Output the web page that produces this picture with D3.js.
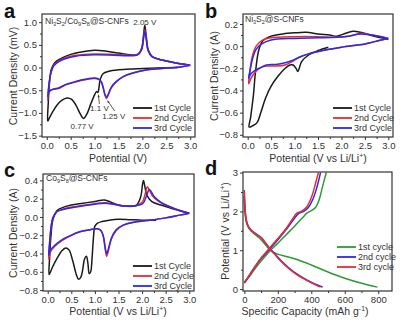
<!DOCTYPE html>
<html><head><meta charset="utf-8">
<script src="https://cdn.jsdelivr.net/npm/d3@7"></script>
<style>body{margin:0;background:#fff}svg{display:block;font-family:"Liberation Sans",Arial,sans-serif}</style>
</head><body><svg id="c" width="405" height="328"></svg>
<script>
// ---------- DATA ----------
const cycleLabels = ["1st Cycle","2nd Cycle","3rd Cycle"];
const cycleLabelsD = ["1st cycle","2nd cycle","3rd cycle"];
const cvTicks = [0,0.5,1,1.5,2,2.5,3];
const aYTicks = [-1.5,-1,-0.5,0,0.5,1];
const bYTicks = [-0.8,-0.6,-0.4,-0.2,0,0.2];
const cYTicks = [-0.8,-0.6,-0.4,-0.2,0,0.2,0.4];
const dXTicks = [0,200,400,600,800];
const dYTicks = [0,1,2,3];

// Panel a: Ni3S2/Co9S8@S-CNFs  [potential V, current]
const a1 = [[2.75,0.0],[2.3,-0.01],[1.8,-0.03],[1.5,-0.05],[1.3,-0.08],[1.18,-0.13],[1.12,-0.25],[1.09,-0.45],[1.07,-0.55],[1.04,-0.53],[1.0,-0.6],[0.92,-0.8],[0.85,-1.0],[0.77,-1.12],[0.7,-1.02],[0.62,-0.85],[0.52,-0.7],[0.42,-0.67],[0.32,-0.72],[0.22,-0.82],[0.12,-0.98],[0.05,-1.12],[0.02,-1.18],[0.03,-0.8],[0.06,-0.3],[0.1,-0.02],[0.18,0.12],[0.3,0.2],[0.5,0.29],[0.75,0.35],[1.0,0.38],[1.25,0.36],[1.5,0.32],[1.75,0.28],[1.92,0.3],[1.99,0.45],[2.03,0.78],[2.05,0.93],[2.08,0.7],[2.12,0.4],[2.2,0.25],[2.4,0.17],[2.7,0.1],[3.0,0.05]];
const a2 = [[3.0,0.05],[2.7,0.0],[2.4,-0.02],[2.1,-0.05],[1.8,-0.12],[1.6,-0.2],[1.45,-0.32],[1.35,-0.45],[1.28,-0.62],[1.25,-0.68],[1.22,-0.62],[1.18,-0.45],[1.14,-0.32],[1.08,-0.26],[1.0,-0.24],[0.8,-0.27],[0.6,-0.32],[0.4,-0.38],[0.25,-0.46],[0.15,-0.48],[0.08,-0.5],[0.04,-0.56],[0.02,-0.72],[0.04,-0.45],[0.08,-0.15],[0.14,0.04],[0.25,0.15],[0.4,0.22],[0.6,0.27],[1.0,0.3],[1.4,0.29],[1.7,0.27],[1.9,0.29],[1.98,0.4],[2.03,0.72],[2.05,0.83],[2.08,0.65],[2.12,0.38],[2.2,0.24],[2.4,0.17],[2.7,0.1],[3.0,0.05]];
const a3 = [[3.0,0.05],[2.7,0.0],[2.4,-0.02],[2.1,-0.05],[1.8,-0.12],[1.6,-0.2],[1.45,-0.31],[1.35,-0.43],[1.28,-0.6],[1.25,-0.65],[1.22,-0.6],[1.18,-0.44],[1.14,-0.31],[1.08,-0.25],[1.0,-0.23],[0.8,-0.26],[0.6,-0.31],[0.4,-0.37],[0.25,-0.45],[0.15,-0.47],[0.08,-0.5],[0.04,-0.54],[0.02,-0.64],[0.04,-0.42],[0.08,-0.14],[0.14,0.03],[0.25,0.13],[0.4,0.2],[0.6,0.25],[1.0,0.28],[1.4,0.27],[1.7,0.26],[1.9,0.28],[1.98,0.38],[2.03,0.7],[2.05,0.8],[2.08,0.62],[2.12,0.37],[2.2,0.24],[2.4,0.17],[2.7,0.1],[3.0,0.05]];

// Panel b: Ni3S2@S-CNFs
const b1 = [[1.72,-0.01],[1.5,-0.04],[1.3,-0.08],[1.15,-0.14],[1.1,-0.2],[1.07,-0.23],[1.03,-0.2],[0.97,-0.17],[0.9,-0.17],[0.8,-0.2],[0.65,-0.27],[0.5,-0.36],[0.38,-0.47],[0.28,-0.6],[0.2,-0.69],[0.1,-0.72],[0.03,-0.73],[0.06,-0.65],[0.12,-0.45],[0.17,-0.22],[0.24,-0.03],[0.33,0.05],[0.5,0.09],[0.75,0.11],[1.0,0.12],[1.25,0.125],[1.5,0.11],[1.75,0.1],[1.9,0.09],[2.05,0.11],[2.25,0.135],[2.45,0.12],[2.7,0.09],[2.9,0.07],[3.0,0.06]];
const b2 = [[3.0,0.07],[2.8,0.05],[2.5,0.02],[2.0,-0.01],[1.6,-0.04],[1.3,-0.07],[1.1,-0.1],[0.95,-0.14],[0.8,-0.17],[0.6,-0.18],[0.4,-0.18],[0.25,-0.2],[0.15,-0.24],[0.07,-0.29],[0.02,-0.34],[0.05,-0.22],[0.1,-0.09],[0.18,0.0],[0.3,0.05],[0.5,0.075],[1.0,0.085],[1.5,0.085],[1.9,0.08],[2.15,0.09],[2.4,0.115],[2.6,0.105],[2.85,0.085],[3.0,0.07]];
const b3 = [[3.0,0.07],[2.8,0.05],[2.5,0.02],[2.0,-0.01],[1.6,-0.04],[1.3,-0.07],[1.1,-0.1],[0.95,-0.13],[0.8,-0.15],[0.6,-0.165],[0.4,-0.17],[0.25,-0.2],[0.15,-0.22],[0.07,-0.25],[0.02,-0.29],[0.05,-0.22],[0.1,-0.12],[0.18,-0.03],[0.3,0.02],[0.5,0.055],[1.0,0.07],[1.5,0.075],[1.9,0.08],[2.15,0.09],[2.4,0.11],[2.65,0.1],[2.85,0.085],[3.0,0.07]];

// Panel c: Co9S8@S-CNFs
const c1 = [[2.3,-0.035],[2.0,-0.035],[1.75,-0.03],[1.5,-0.025],[1.3,-0.035],[1.15,-0.05],[1.05,-0.07],[1.0,-0.1],[0.97,-0.22],[0.94,-0.45],[0.91,-0.6],[0.88,-0.62],[0.85,-0.5],[0.82,-0.43],[0.78,-0.46],[0.74,-0.58],[0.7,-0.66],[0.65,-0.68],[0.6,-0.62],[0.53,-0.48],[0.45,-0.36],[0.38,-0.34],[0.3,-0.37],[0.2,-0.45],[0.1,-0.55],[0.03,-0.63],[0.04,-0.45],[0.07,-0.2],[0.11,-0.03],[0.2,0.07],[0.3,0.1],[0.5,0.13],[0.75,0.15],[1.0,0.17],[1.2,0.185],[1.35,0.16],[1.5,0.13],[1.7,0.12],[1.88,0.13],[1.97,0.22],[2.01,0.36],[2.03,0.4],[2.06,0.33],[2.1,0.24],[2.2,0.17],[2.4,0.13],[2.65,0.09],[2.85,0.06],[3.0,0.04]];
const c2 = [[3.0,0.04],[2.8,0.02],[2.5,-0.01],[2.1,-0.04],[1.8,-0.06],[1.6,-0.09],[1.45,-0.15],[1.35,-0.24],[1.29,-0.36],[1.25,-0.43],[1.22,-0.36],[1.18,-0.22],[1.13,-0.15],[1.05,-0.13],[0.9,-0.14],[0.7,-0.16],[0.5,-0.2],[0.3,-0.26],[0.15,-0.32],[0.06,-0.38],[0.02,-0.46],[0.04,-0.3],[0.07,-0.12],[0.11,-0.01],[0.2,0.06],[0.35,0.09],[0.6,0.115],[1.0,0.145],[1.2,0.155],[1.4,0.14],[1.6,0.12],[1.85,0.12],[2.0,0.16],[2.07,0.26],[2.11,0.33],[2.15,0.3],[2.22,0.23],[2.35,0.17],[2.55,0.12],[2.8,0.07],[3.0,0.04]];
const c3 = [[3.0,0.04],[2.8,0.02],[2.5,-0.01],[2.1,-0.04],[1.8,-0.06],[1.6,-0.09],[1.45,-0.14],[1.35,-0.23],[1.29,-0.34],[1.25,-0.4],[1.22,-0.34],[1.18,-0.21],[1.13,-0.15],[1.05,-0.13],[0.9,-0.14],[0.7,-0.16],[0.5,-0.2],[0.3,-0.25],[0.15,-0.31],[0.06,-0.36],[0.02,-0.42],[0.04,-0.28],[0.07,-0.11],[0.11,-0.01],[0.2,0.06],[0.35,0.085],[0.6,0.11],[1.0,0.14],[1.2,0.15],[1.4,0.14],[1.6,0.12],[1.85,0.12],[2.02,0.15],[2.1,0.24],[2.15,0.3],[2.19,0.28],[2.26,0.22],[2.4,0.16],[2.6,0.11],[2.8,0.07],[3.0,0.04]];

// Panel d: charge/discharge [capacity mAh/g, potential V]
const d1dis = [[0,2.3],[4,2.0],[12,1.72],[28,1.56],[60,1.42],[100,1.27],[130,1.12],[160,0.98],[200,0.9],[300,0.78],[400,0.62],[500,0.44],[600,0.28],[700,0.15],[795,0.05]];
const d1chg = [[0,0.15],[30,0.32],[60,0.5],[100,0.72],[150,0.97],[200,1.18],[250,1.4],[300,1.62],[350,1.85],[375,1.96],[400,2.02],[425,2.1],[447,2.3],[465,2.6],[480,2.85],[490,3.0]];
const d2dis = [[0,2.4],[4,2.05],[10,1.8],[20,1.65],[40,1.52],[70,1.42],[100,1.32],[130,1.17],[150,1.05],[180,0.92],[220,0.73],[270,0.53],[320,0.37],[370,0.24],[420,0.13],[468,0.05]];
const d2chg = [[0,0.17],[30,0.35],[60,0.55],[100,0.78],[150,1.02],[200,1.27],[250,1.53],[295,1.8],[325,1.95],[355,2.0],[382,2.1],[408,2.3],[432,2.6],[447,2.85],[455,3.0]];
const d3dis = [[0,2.55],[3,2.2],[8,1.9],[16,1.7],[32,1.55],[60,1.44],[100,1.33],[130,1.16],[150,1.04],[180,0.9],[220,0.71],[270,0.51],[320,0.35],[370,0.23],[420,0.12],[455,0.05]];
const d3chg = [[0,0.17],[30,0.36],[60,0.56],[100,0.8],[150,1.05],[200,1.3],[250,1.56],[290,1.82],[312,1.95],[340,2.0],[370,2.1],[397,2.32],[418,2.6],[433,2.85],[443,3.0]];

// ---------- DRAW ----------
const COL = {k:"#1a1a1a", r:"#ee2b2b", b:"#2a2aee", g:"#2e9a33"};
const svg = d3.select("#c");

function panel(o){
  const g = svg.append("g");
  const x = d3.scaleLinear().domain(o.xd).range(o.xr);
  const y = d3.scaleLinear().domain(o.yd).range(o.yr);
  const xa = d3.axisBottom(x).tickValues(o.xt).tickFormat(o.xf).tickSize(3).tickPadding(2);
  const ya = d3.axisLeft(y).tickValues(o.yt).tickFormat(o.yf).tickSize(3).tickPadding(2);
  g.append("g").attr("transform",`translate(0,${o.yr[0]})`).call(xa);
  g.append("g").attr("transform",`translate(${o.xr[0]},0)`).call(ya);
  g.append("g").attr("transform",`translate(0,${o.yr[0]})`).call(d3.axisBottom(x).tickValues(o.xm).tickFormat("").tickSize(2));
  g.append("g").attr("transform",`translate(${o.xr[0]},0)`).call(d3.axisLeft(y).tickValues(o.ym).tickFormat("").tickSize(2));
  g.selectAll(".domain").remove();
  g.selectAll(".tick line").attr("stroke","#333").attr("stroke-width",1);
  g.selectAll(".tick text").attr("font-size",9.5).attr("fill","#333").attr("font-family","Liberation Sans, Arial, sans-serif");
  const cid = "clip"+o.id;
  svg.append("clipPath").attr("id",cid).append("rect")
    .attr("x",o.xr[0]).attr("y",o.yr[1]).attr("width",o.xr[1]-o.xr[0]).attr("height",o.yr[0]-o.yr[1]);
  const line = d3.line().x(d=>x(d[0])).y(d=>y(d[1])).curve(d3.curveCatmullRom.alpha(0.5));
  const lg = g.append("g").attr("clip-path",`url(#${cid})`);
  o.series.forEach(s=>{
    lg.append("path").datum(s.data).attr("d",line).attr("fill","none")
      .attr("stroke",s.c).attr("stroke-width",1.5).attr("stroke-linejoin","round");
  });
  g.append("rect").attr("x",o.xr[0]).attr("y",o.yr[1]).attr("width",o.xr[1]-o.xr[0]).attr("height",o.yr[0]-o.yr[1])
    .attr("fill","none").attr("stroke","#333").attr("stroke-width",1.2);
  o.legend.forEach((l,i)=>{
    const ly = o.leg[1]+i*10;
    g.append("line").attr("x1",o.leg[0]).attr("x2",o.leg[0]+19).attr("y1",ly).attr("y2",ly).attr("stroke",l.c).attr("stroke-width",1.8);
    g.append("text").attr("x",o.leg[0]+21).attr("y",ly+3.2).attr("font-size",9).attr("fill","#333").text(l.t);
  });
  g.append("text").attr("x",o.letter[0]).attr("y",o.letter[1]).attr("font-size",20).attr("font-weight","bold").attr("fill","#111").text(o.id);
  return {g,x,y};
}

function richText(g, x, y, parts, size, anchor, rot){
  const t = g.append("text").attr("x",x).attr("y",y).attr("font-size",size).attr("fill","#333")
    .attr("text-anchor",anchor||"start");
  if(rot) t.attr("transform",`rotate(-90,${x},${y})`);
  parts.forEach(p=>{
    const s = t.append("tspan").text(p[0]);
    if(p[1]==="sub") s.attr("font-size",size*0.65).attr("dy",size*0.25);
    else if(p[1]==="sup") s.attr("font-size",size*0.65).attr("dy",-size*0.4);
    else if(p[1]==="back") s.attr("dy",-size*0.25);
    else if(p[1]==="backsup") s.attr("dy",size*0.4);
  });
  return t;
}

const cvMinor = [0.25,0.75,1.25,1.75,2.25,2.75];
const fmt1 = d3.format(".1f");

// ---- a ----
const A = panel({id:"a", xd:[-0.1,3.1], xr:[42,195], yd:[-1.53,1.18], yr:[137,14],
  xt:cvTicks, xf:fmt1, xm:cvMinor, yt:aYTicks, yf:fmt1, ym:[-1.25,-0.75,-0.25,0.25,0.75],
  series:[{data:a1,c:COL.k},{data:a2,c:COL.r},{data:a3,c:COL.b}],
  legend:[{t:cycleLabels[0],c:COL.k},{t:cycleLabels[1],c:COL.r},{t:cycleLabels[2],c:COL.b}],
  leg:[133,108], letter:[4,18]});
richText(A.g,45,24,[["Ni"],["3","sub"],["S","back"],["2","sub"],["/Co","back"],["9","sub"],["S","back"],["8","sub"],["@S-CNFs","back"]],8.5);
A.g.append("text").attr("x",A.x(2.05)).attr("y",25).attr("text-anchor","middle").attr("font-size",8).attr("fill","#333").text("2.05 V");
A.g.append("text").attr("x",A.x(1.1)).attr("y",111).attr("text-anchor","middle").attr("font-size",8).attr("fill","#333").text("1.1 V");
A.g.append("text").attr("x",A.x(1.4)).attr("y",119).attr("text-anchor","middle").attr("font-size",8).attr("fill","#333").text("1.25 V");
A.g.append("text").attr("x",A.x(0.74)).attr("y",129).attr("text-anchor","middle").attr("font-size",8).attr("fill","#333").text("0.77 V");
function arrow(g,x1,y1,x2,y2){
  g.append("line").attr("x1",x1).attr("y1",y1).attr("x2",x2).attr("y2",y2).attr("stroke","#333").attr("stroke-width",0.8);
  const ang=Math.atan2(y2-y1,x2-x1), h=2.5;
  const p=[[x2,y2],[x2-h*Math.cos(ang-0.45),y2-h*Math.sin(ang-0.45)],[x2-h*Math.cos(ang+0.45),y2-h*Math.sin(ang+0.45)]];
  g.append("path").attr("d","M"+p.join("L")+"Z").attr("fill","#333");
}
arrow(A.g, A.x(1.1), 104, A.x(1.08), A.y(-0.6));
arrow(A.g, A.x(1.42), 111, A.x(1.27), A.y(-0.73));
A.g.append("text").attr("x",118).attr("y",162).attr("text-anchor","middle").attr("font-size",10.5).attr("fill","#333").text("Potential (V)");
A.g.append("text").attr("transform","translate(17,76) rotate(-90)").attr("text-anchor","middle").attr("font-size",10.5).attr("fill","#333").text("Current Density (mV)");

// ---- b ----
const B = panel({id:"b", xd:[-0.1,3.1], xr:[243,393], yd:[-0.82,0.29], yr:[137,14],
  xt:cvTicks, xf:fmt1, xm:cvMinor, yt:bYTicks, yf:fmt1, ym:[-0.7,-0.5,-0.3,-0.1,0.1],
  series:[{data:b1,c:COL.k},{data:b2,c:COL.r},{data:b3,c:COL.b}],
  legend:[{t:cycleLabels[0],c:COL.k},{t:cycleLabels[1],c:COL.r},{t:cycleLabels[2],c:COL.b}],
  leg:[333,108], letter:[205,18]});
richText(B.g,245,22,[["Ni"],["3","sub"],["S","back"],["2","sub"],["@S-CNFs","back"]],8.5);
richText(B.g,318,162,[["Potential (V vs Li/Li"],["+","sup"],[")","backsup"]],10.5,"middle");
B.g.append("text").attr("transform","translate(218,76) rotate(-90)").attr("text-anchor","middle").attr("font-size",10.5).attr("fill","#333").text("Current Density (A)");

// ---- c ----
const C = panel({id:"c", xd:[-0.1,3.1], xr:[43,194], yd:[-0.81,0.47], yr:[291,174],
  xt:cvTicks, xf:fmt1, xm:cvMinor, yt:cYTicks, yf:fmt1, ym:[-0.7,-0.5,-0.3,-0.1,0.1,0.3],
  series:[{data:c1,c:COL.k},{data:c2,c:COL.r},{data:c3,c:COL.b}],
  legend:[{t:cycleLabels[0],c:COL.k},{t:cycleLabels[1],c:COL.r},{t:cycleLabels[2],c:COL.b}],
  leg:[133,266], letter:[4,177]});
richText(C.g,46,181,[["Co"],["9","sub"],["S","back"],["8","sub"],["@S-CNFs","back"]],8.5);
richText(C.g,118,315,[["Potential (V vs Li/Li"],["+","sup"],[")","backsup"]],10.5,"middle");
C.g.append("text").attr("transform","translate(17,233) rotate(-90)").attr("text-anchor","middle").attr("font-size",10.5).attr("fill","#333").text("Current Density (A)");

// ---- d ----
const D = panel({id:"d", xd:[-8,882], xr:[243,392], yd:[-0.05,3.015], yr:[291,172],
  xt:dXTicks, xf:d3.format("d"), xm:[100,300,500,700], yt:dYTicks, yf:d3.format("d"), ym:[0.5,1.5,2.5],
  series:[{data:d1dis,c:COL.g},{data:d1chg,c:COL.g},{data:d2dis,c:COL.b},{data:d2chg,c:COL.b},{data:d3dis,c:COL.r},{data:d3chg,c:COL.r}],
  legend:[{t:cycleLabelsD[0],c:COL.g},{t:cycleLabelsD[1],c:COL.b},{t:cycleLabelsD[2],c:COL.r}],
  leg:[337,247], letter:[205,175]});
richText(D.g,305,315,[["Specific Capacity (mAh g"],["-1","sup"],[")","backsup"]],10.5,"middle");
richText(D.g,229,231,[["Potential (V vs Li/Li"],["+","sup"],[")","backsup"]],10.5,"middle",true);
</script></body></html>
